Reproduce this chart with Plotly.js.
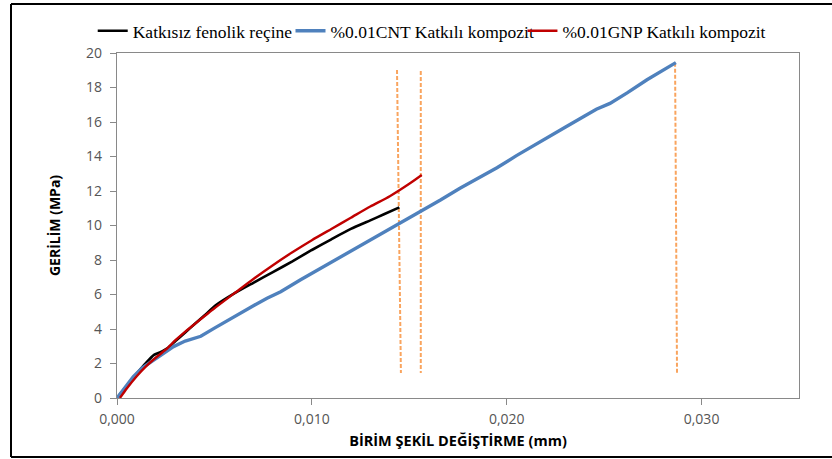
<!DOCTYPE html>
<html>
<head>
<meta charset="utf-8">
<script src="https://cdn.plot.ly/plotly-3.0.1.min.js"></script>
<style>
html,body{margin:0;padding:0;background:#fff;}
#chart{width:832px;height:459px;}
</style>
</head>
<body>
<div id="chart"></div>
<script>
// Series names
const seriesNames = ["Katkısız fenolik reçine", "%0.01CNT Katkılı kompozit", "%0.01GNP Katkılı kompozit"];

// Katkısız fenolik reçine (strain, stress)
const neatStrain = [0, 0.0005, 0.0010, 0.0015, 0.0019, 0.0022, 0.0026, 0.0030, 0.0035, 0.0040, 0.0045, 0.0051, 0.0060, 0.0070, 0.0080, 0.0090, 0.0100, 0.0110, 0.0120, 0.0130, 0.0137, 0.01449];
const neatStress = [0, 0.70, 1.40, 2.05, 2.50, 2.65, 2.90, 3.30, 3.80, 4.30, 4.80, 5.40, 6.05, 6.68, 7.30, 7.92, 8.58, 9.20, 9.80, 10.30, 10.65, 11.05];

// %0.01CNT Katkılı kompozit
const cntStrain = [0, 0.0005, 0.00084, 0.0013, 0.0019, 0.0025, 0.0029, 0.0035, 0.0043, 0.0050, 0.0060, 0.0070, 0.0077, 0.0084, 0.0094, 0.0105, 0.0115, 0.0125, 0.0135, 0.0145, 0.0156, 0.0166, 0.0176, 0.0185, 0.0195, 0.0205, 0.0217, 0.0230, 0.0240, 0.0246, 0.0253, 0.0262, 0.0272, 0.02868];
const cntStress = [0, 0.75, 1.24, 1.75, 2.20, 2.65, 2.98, 3.30, 3.58, 4.05, 4.72, 5.35, 5.78, 6.16, 6.84, 7.55, 8.20, 8.85, 9.45, 10.10, 10.80, 11.48, 12.16, 12.70, 13.35, 14.05, 14.86, 15.70, 16.35, 16.74, 17.08, 17.70, 18.45, 19.44];

// %0.01GNP Katkılı kompozit
const gnpStrain = [0.00015, 0.0005, 0.0010, 0.0015, 0.0020, 0.0025, 0.0030, 0.0034, 0.0040, 0.0050, 0.0060, 0.0070, 0.0080, 0.0090, 0.0100, 0.0110, 0.0120, 0.0130, 0.0140, 0.0150, 0.01564];
const gnpStress = [0, 0.55, 1.25, 1.85, 2.35, 2.80, 3.35, 3.75, 4.30, 5.20, 6.05, 6.90, 7.70, 8.45, 9.15, 9.80, 10.45, 11.10, 11.70, 12.42, 12.93];

// Dashed failure-marker lines (strain at top, strain at bottom, top stress, bottom stress)
const markTopStrain = [0.01437, 0.01559, 0.02864];
const markBottomStrain = [0.01457, 0.01559, 0.02874];
const markTopStress = [19.01, 18.96, 19.44];
const markBottomStress = [1.45, 1.45, 1.45];

// Tick values
const xTicks = [0, 0.01, 0.02, 0.03];
const yTicks = [0, 2, 4, 6, 8, 10, 12, 14, 16, 18, 20];

const traces = [];
for (let i = 0; i < markTopStrain.length; i++) {
  traces.push({
    x: [markTopStrain[i], markBottomStrain[i]],
    y: [markTopStress[i], markBottomStress[i]],
    mode: 'lines', showlegend: false, hoverinfo: 'skip',
    line: {color: '#F9A45E', width: 2, dash: '4px,2px'}
  });
}
traces.push({x: neatStrain, y: neatStress, name: seriesNames[0], mode: 'lines', line: {color: '#000000', width: 2.6, shape: 'spline', smoothing: 0.6}, legend: 'legend'});
traces.push({x: cntStrain, y: cntStress, name: seriesNames[1], mode: 'lines', line: {color: '#4F81BD', width: 3.4}, legend: 'legend2'});
traces.push({x: gnpStrain, y: gnpStress, name: seriesNames[2], mode: 'lines', line: {color: '#C00000', width: 2.4, shape: 'spline', smoothing: 0.6}, legend: 'legend3'});

const legFont = {family: 'Liberation Serif, Times New Roman, serif', size: 17.5, color: '#000'};
const legBase = {orientation: 'h', yanchor: 'middle', y: 1.064, xanchor: 'left', font: legFont, bgcolor: 'rgba(0,0,0,0)', borderwidth: 0, itemwidth: 30, tracegroupgap: 0};

const layout = {
  width: 832, height: 459,
  margin: {l: 117, r: 33, t: 53, b: 61},
  paper_bgcolor: '#ffffff', plot_bgcolor: '#ffffff',
  separators: ',.',
  showlegend: true,
  legend: Object.assign({}, legBase, {x: -0.0356}),
  legend2: Object.assign({}, legBase, {x: 0.2544}),
  legend3: Object.assign({}, legBase, {x: 0.5945}),
  xaxis: {
    range: [0, 0.035], tickvals: xTicks, tickformat: '.3f',
    showgrid: false, zeroline: false,
    showline: true, linecolor: '#898989', linewidth: 1.3, mirror: true,
    ticks: 'outside', ticklen: 6, tickcolor: '#898989', tickwidth: 1,
    ticklabelstandoff: 2,
    tickfont: {family: 'Open Sans, sans-serif', size: 14, color: '#555555'},
    title: {text: 'BİRİM ŞEKİL DEĞİŞTİRME (mm)', standoff: 8,
      font: {family: 'Open Sans, sans-serif', size: 14.5, color: '#000', weight: 'bold'}}
  },
  yaxis: {
    range: [0, 20], tickvals: yTicks,
    showgrid: false, zeroline: false,
    showline: true, linecolor: '#898989', linewidth: 1.3, mirror: true,
    ticks: 'outside', ticklen: 6, tickcolor: '#898989', tickwidth: 1,
    ticklabelstandoff: 5,
    tickfont: {family: 'Open Sans, sans-serif', size: 14, color: '#555555'},
    title: {text: 'GERİLİM (MPa)', standoff: 22,
      font: {family: 'Open Sans, sans-serif', size: 14, color: '#000', weight: 'bold'}}
  },
  shapes: [
    {type: 'line', xref: 'paper', yref: 'paper', x0: (11-117)/682, x1: (832-117)/682, y0: (398-4)/345, y1: (398-4)/345, line: {color: '#000', width: 2}},
    {type: 'line', xref: 'paper', yref: 'paper', x0: (11-117)/682, x1: (832-117)/682, y0: (398-457)/345, y1: (398-457)/345, line: {color: '#000', width: 2}},
    {type: 'line', xref: 'paper', yref: 'paper', x0: (11-117)/682, x1: (11-117)/682, y0: (398-4)/345, y1: (398-457)/345, line: {color: '#000', width: 2}}
  ]
};

Plotly.newPlot('chart', traces, layout, {displayModeBar: false, staticPlot: true});
</script>
</body>
</html>
